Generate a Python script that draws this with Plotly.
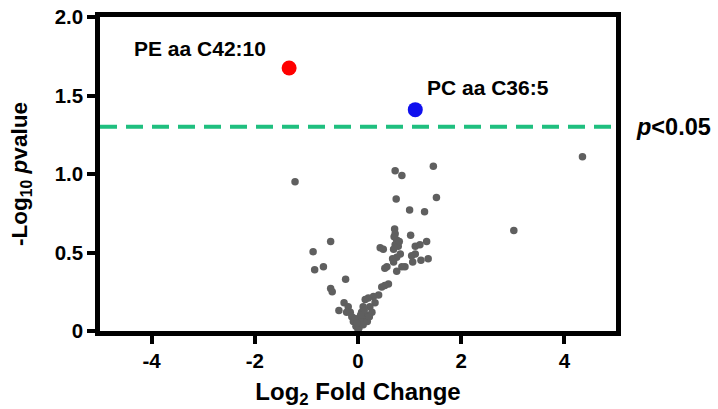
import plotly.graph_objects as go

# Gray (non-significant) points: log2 fold change, -log10 p
fc = [-1.22, 0.72, 0.85, 1.46, 0.74, 1.52, 1.00, 1.29, 4.35, 3.02,
      -0.53, -0.87, -0.67, -0.84, -0.24, -0.53, -0.50, -0.27, -0.37,
      0.71, 1.02, 1.33, 0.43, 0.49, 0.75, 0.72, 0.78, 0.69, 0.82, 0.75, 0.67, 0.72, 0.70, 0.80,
      1.11, 1.20, 1.11, 1.04, 1.36, 1.22, 1.06, 0.91, 0.85, 0.69, 0.56, 0.52, 0.75,
      0.59, 0.52, 0.46, 0.40, 0.30, 0.20, 0.14, 0.33, 0.23, 0.10, 0.27, 0.17, 0.07,
      -0.19, -0.15, -0.12, -0.09, -0.04, 0.00, 0.07, 0.14, 0.04, 0.18, -0.22, 0.02,
      -0.06, 0.10, 0.22, 0.12, -0.02, 0.05]
logp = [0.95, 1.02, 0.99, 1.05, 0.84, 0.85, 0.77, 0.76, 1.11, 0.64,
        0.57, 0.505, 0.41, 0.39, 0.33, 0.27, 0.25, 0.18, 0.13,
        0.65, 0.61, 0.57, 0.53, 0.52, 0.58, 0.55, 0.54, 0.52, 0.49, 0.47, 0.46, 0.62, 0.60, 0.57,
        0.54, 0.55, 0.49, 0.48, 0.46, 0.45, 0.44, 0.41, 0.41, 0.44, 0.41, 0.40, 0.38,
        0.30, 0.29, 0.28, 0.23, 0.22, 0.21, 0.20, 0.18, 0.155, 0.155, 0.12, 0.10, 0.12,
        0.155, 0.12, 0.09, 0.06, 0.03, 0.01, 0.05, 0.07, 0.07, 0.06, 0.12, 0.02,
        0.08, 0.04, 0.09, 0.13, 0.05, 0.10]

# Significant lipids
sig_names = ["PE aa C42:10", "PC aa C36:5"]
sig_fc = [-1.335, 1.11]
sig_logp = [1.675, 1.41]
sig_colors = ["#ff0000", "#1010ee"]

threshold = 1.301  # -log10(0.05)

x_ticks = [-4, -2, 0, 2, 4]
x_ticktext = ["-4", "-2", "0", "2", "4"]
y_ticks = [0, 0.5, 1.0, 1.5, 2.0]
y_ticktext = ["0", "0.5", "1.0", "1.5", "2.0"]

FONT = "Liberation Sans, Arial, sans-serif"

fig = go.Figure()
fig.add_trace(go.Scatter(
    x=[-5, 5], y=[threshold, threshold], mode="lines",
    line=dict(color="#1fbf7f", width=4, dash="17px,9px"),
    hoverinfo="skip", showlegend=False))
fig.add_trace(go.Scatter(
    x=fc, y=logp, mode="markers",
    marker=dict(color="#5f5f5f", size=7.5, line=dict(width=0)),
    showlegend=False))
fig.add_trace(go.Scatter(
    x=sig_fc, y=sig_logp, mode="markers",
    marker=dict(color=sig_colors, size=15, line=dict(width=0)),
    showlegend=False))

# labels for significant points
fig.add_annotation(x=sig_fc[0], y=sig_logp[0], text=sig_names[0], showarrow=False,
                   xanchor="right", yanchor="middle", xshift=-21, yshift=20,
                   font=dict(family=FONT, size=21, color="black", weight="bold"))
fig.add_annotation(x=sig_fc[1], y=sig_logp[1], text=sig_names[1], showarrow=False,
                   xanchor="left", yanchor="middle", xshift=10, yshift=22,
                   font=dict(family=FONT, size=21, color="black", weight="bold"))
fig.add_annotation(xref="paper", x=1.035, y=threshold, text="<i>p</i><0.05",
                   showarrow=False, xanchor="left", yanchor="middle",
                   font=dict(family=FONT, size=23.5, color="black", weight="bold"))

fig.update_layout(
    width=718, height=409,
    margin=dict(l=100, r=102, t=17, b=78, autoexpand=False),
    paper_bgcolor="white", plot_bgcolor="white",
    font=dict(family=FONT, color="black"),
    xaxis=dict(range=[-5, 5], tickvals=x_ticks, ticktext=x_ticktext, showgrid=False,
               zeroline=False, showline=True, linecolor="black", linewidth=4.5, mirror=True,
               ticks="outside", ticklen=8, tickwidth=4, tickcolor="black", automargin=False,
               tickfont=dict(size=20.5, weight="bold", family=FONT),
               title=dict(text="Log<sub>2</sub> Fold Change", standoff=14,
                          font=dict(size=24, weight="bold", family=FONT))),
    yaxis=dict(range=[0, 2], tickvals=y_ticks, ticktext=y_ticktext, showgrid=False,
               zeroline=False, showline=True, linecolor="black", linewidth=4.5, mirror=True,
               ticks="outside", ticklen=8, tickwidth=4, tickcolor="black", automargin=False,
               tickfont=dict(size=20.5, weight="bold", family=FONT),
               title=dict(text="-Log<sub>10</sub> <i>p</i>value", standoff=22,
                          font=dict(size=22.5, weight="bold", family=FONT))),
)

fig.write_html("out.html", config={"displayModeBar": False},
               post_script="document.body.style.margin='0px';")
